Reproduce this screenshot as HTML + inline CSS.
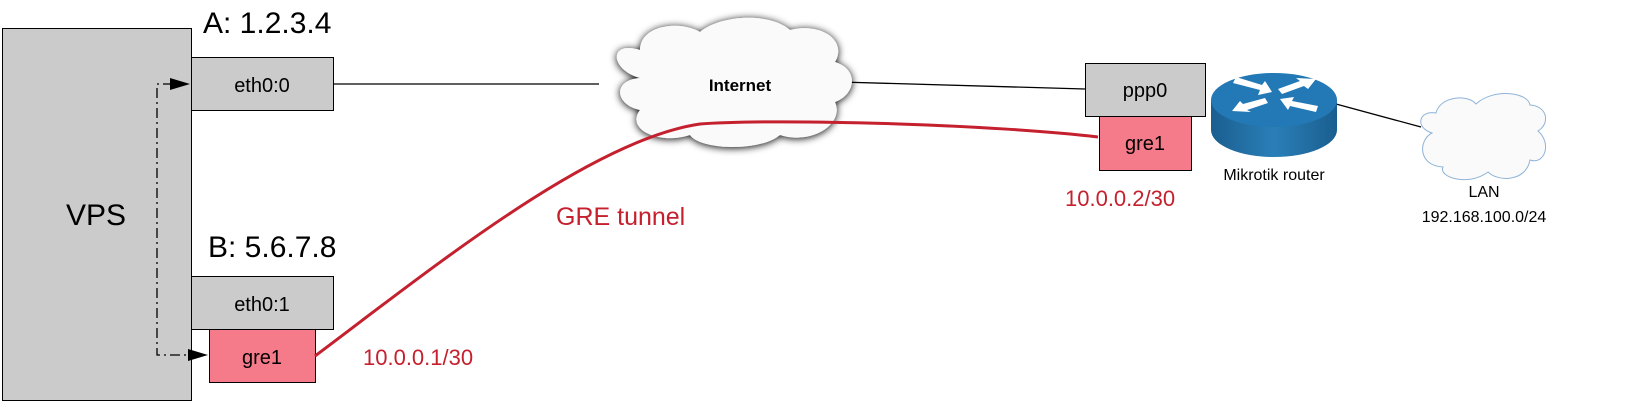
<!DOCTYPE html>
<html><head><style>
body{margin:0;background:#fff;}
svg{display:block;font-family:"Liberation Sans",sans-serif;}
</style></head><body>
<svg width="1646" height="402" viewBox="0 0 1646 402" xmlns="http://www.w3.org/2000/svg">
<defs>
<filter id="sh" x="-20%" y="-20%" width="140%" height="140%"><feGaussianBlur in="SourceAlpha" stdDeviation="4"/><feOffset dx="0" dy="1"/><feComponentTransfer><feFuncA type="linear" slope="1"/></feComponentTransfer><feMerge><feMergeNode/><feMergeNode in="SourceGraphic"/></feMerge></filter>
<linearGradient id="rg" x1="0" x2="1"><stop offset="0" stop-color="#1a5e8f"/><stop offset="0.5" stop-color="#2a7fb8"/><stop offset="1" stop-color="#1a5e8f"/></linearGradient>
</defs>
<rect x="2.5" y="28.5" width="189" height="372" fill="#cbcbcb" stroke="#000"/>
<text x="96" y="225" font-size="30" text-anchor="middle">VPS</text>
<text x="203" y="33" font-size="30">A: 1.2.3.4</text>
<text x="208" y="257" font-size="30">B: 5.6.7.8</text>
<rect x="191.5" y="57.5" width="142" height="53" fill="#cbcbcb" stroke="#000"/>
<text x="262" y="92" font-size="20" text-anchor="middle">eth0:0</text>
<rect x="191.5" y="276.5" width="142" height="53" fill="#cbcbcb" stroke="#000"/>
<text x="262" y="311" font-size="20" text-anchor="middle">eth0:1</text>
<rect x="209.5" y="329.5" width="106" height="53" fill="#f57a8a" stroke="#000"/>
<text x="262" y="364" font-size="20" text-anchor="middle">gre1</text>
<path d="M173 84 H157 V355 H190" fill="none" stroke="#000" stroke-width="1.3" stroke-dasharray="10,4,2,4"/>
<polygon points="170,78 190,84 170,90" fill="#000"/>
<polygon points="188,349 208,355 188,361" fill="#000"/>
<line x1="334" y1="84" x2="599" y2="84" stroke="#000" stroke-width="1.3"/>
<line x1="840" y1="82" x2="1085" y2="89" stroke="#000" stroke-width="1.3"/>
<g filter="url(#sh)">
<path d="M640 78 C610 70 608 40 640 50 C640 25 680 20 700 32 C720 15 770 12 790 30 C820 22 848 40 835 62 C860 70 855 95 835 102 C845 125 810 145 780 135 C760 152 700 150 690 135 C660 145 625 130 640 110 C615 105 612 80 640 78 Z" fill="#fafafa"/>
</g>
<text x="740" y="91" font-size="17" font-weight="bold" text-anchor="middle">Internet</text>
<path d="M315 356 C430 270 590 140 700 124 C780 118 1000 125 1098 137" fill="none" stroke="#c4202e" stroke-width="3"/>
<text x="556" y="225" font-size="25" fill="#c4202e">GRE tunnel</text>
<text x="363" y="365" font-size="22" fill="#c4202e">10.0.0.1/30</text>
<rect x="1085.5" y="63.5" width="120" height="53" fill="#cbcbcb" stroke="#000"/>
<text x="1145" y="97" font-size="20" text-anchor="middle">ppp0</text>
<rect x="1099.5" y="116.5" width="92" height="54" fill="#f57a8a" stroke="#000"/>
<text x="1145" y="150" font-size="20" text-anchor="middle">gre1</text>
<text x="1065" y="206" font-size="22" fill="#c4202e">10.0.0.2/30</text>
<line x1="1336" y1="104" x2="1421" y2="127" stroke="#000" stroke-width="1.3"/>
<path d="M1211 100 V130 A63 27 0 0 0 1337 130 V100 Z" fill="url(#rg)"/>
<ellipse cx="1274" cy="100" rx="63" ry="27" fill="#2379b5"/>
<g fill="#fff">
<polygon points="1236,77 1262,85 1265,81 1272,92 1258,95 1260,90 1233,83"/>
<polygon points="1316,79 1308,89 1304,86 1282,94 1278,89 1300,81 1296,78"/>
<polygon points="1232,111 1240,101 1243,104 1265,98 1268,103 1247,110 1251,112"/>
<polygon points="1316,112 1290,106 1288,110 1280,99 1294,97 1292,101 1318,106"/>
</g>
<text x="1274" y="180" font-size="16" text-anchor="middle">Mikrotik router</text>
<path d="M1432 133 C1415 128 1418 110 1436 113 C1440 96 1468 94 1476 104 C1493 88 1528 92 1530 105 C1548 106 1550 124 1538 131 C1552 143 1545 165 1530 160 C1526 182 1498 182 1488 172 C1468 187 1438 177 1443 167 C1418 166 1418 140 1432 133 Z" fill="#fafafa" stroke="#8fb4d8" stroke-width="1"/>
<text x="1484" y="197" font-size="16" text-anchor="middle">LAN</text>
<text x="1484" y="222" font-size="16" text-anchor="middle">192.168.100.0/24</text>
</svg>
</body></html>
